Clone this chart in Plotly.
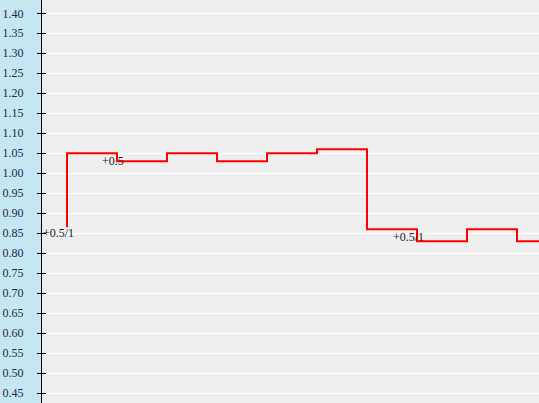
import plotly.graph_objects as go

# step series (value held from each x until the next)
step_x = [0, 0, 1, 2, 3, 4, 5, 6, 7, 8, 9, 10]
step_y = [0.865, 1.05, 1.03, 1.05, 1.03, 1.05, 1.06, 0.86, 0.83, 0.86, 0.83, 0.83]

# point labels
label_x = [0, 1, 7]
label_y = [0.85, 1.03, 0.84]
label_text = ["+0.5/1", "+0.5", "+0.5/1"]

tick_vals = [round(0.45 + 0.05 * i, 2) for i in range(20)]
tick_text = ["%.2f" % v for v in tick_vals]

fig = go.Figure()
fig.add_trace(go.Scatter(x=step_x, y=step_y, mode="lines",
                         line=dict(shape="hv", color="#ff0000", width=2),
                         hoverinfo="skip", showlegend=False))
fig.add_trace(go.Scatter(x=[None], y=[None], yaxis="y2", showlegend=False))

for x, y, t in zip(label_x, label_y, label_text):
    fig.add_annotation(x=x, y=y, text=t, showarrow=False, xanchor="right",
                       xshift=9, yanchor="middle",
                       font=dict(family="Liberation Serif", size=12, color="#222222"))

yr = [0.425, 1.4333]
fig.update_layout(
    width=539, height=403,
    margin=dict(l=42, r=0, t=0, b=0),
    paper_bgcolor="#c4e7f2",
    plot_bgcolor="#eeeeee",
    xaxis=dict(range=[-0.5, 9.44], showgrid=False, zeroline=False,
               showticklabels=False, ticks="", showline=False),
    yaxis=dict(range=yr, tickvals=tick_vals, ticktext=tick_text,
               showgrid=True, gridcolor="#ffffff", gridwidth=1, zeroline=False,
               showline=True, linecolor="#000000", linewidth=1,
               ticks="outside", ticklen=4, tickcolor="#000000",
               ticklabelstandoff=11,
               tickfont=dict(family="Liberation Serif", size=12, color="#1a2a50")),
    yaxis2=dict(range=yr, overlaying="y", side="left", tickvals=tick_vals,
                showgrid=False, zeroline=False, showticklabels=False,
                ticks="inside", ticklen=4, tickcolor="#000000", showline=False),
)
fig.write_html("out.html", config={"displayModeBar": False},
               post_script="document.body.style.margin='0';document.body.style.overflow='hidden';")
